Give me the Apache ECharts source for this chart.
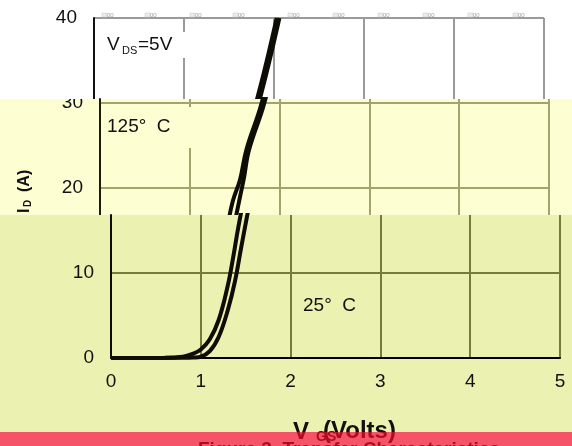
<!DOCTYPE html>
<html><head><meta charset="utf-8">
<script src="https://cdn.jsdelivr.net/npm/echarts@6/dist/echarts.min.js"></script>
<style>html,body{margin:0;padding:0;background:#fff}#c{width:572px;height:446px}</style>
</head><body><div id="c"></div>
<script>
// ---- data ----
const xTicks = [0, 1, 2, 3, 4, 5];
const yTicks = [0, 10, 20, 30, 40];
const vgs125 = [0, 0.6, 0.8, 0.9, 1.0, 1.1, 1.2, 1.3, 1.36, 1.42, 1.48, 1.56, 1.63, 1.80, 2.03];
const id125  = [0, 0.02, 0.15, 0.45, 1.0, 2.2, 4.5, 8.5, 11.8, 15.5, 18.5, 21.0, 24.5, 30.0, 40.0];
const vgs25  = [0, 0.8, 0.92, 1.0, 1.1, 1.2, 1.3, 1.38, 1.45, 1.51, 1.56, 1.60, 1.66, 1.83, 2.06];
const id25   = [0, 0.02, 0.06, 0.15, 0.8, 2.5, 5.6, 9.0, 13.0, 16.4, 19.0, 21.0, 24.5, 30.0, 40.0];
const labelVds = ['V', 'DS', '=5V'];
const label125 = '125°  C';
const label25 = '25°  C';
const xTitle = ['V', 'GS', '(Volts)'];
const yTitle = ['I', 'D', '(A)'];
const caption = 'Figure 3. Transfer Characteristics';

const d125 = vgs125.map((v, i) => [v, id125[i]]);
const d25 = vgs25.map((v, i) => [v, id25[i]]);

const FONT = '"Liberation Sans", Arial, sans-serif';
const strips = [
  {left: 94, width: 450, top: 18, height: 85, min: 30, max: 40, grid: '#9a9a9a', axis: '#111', z: 1},
  {left: 100, width: 449, top: 99, height: 174, min: 10, max: 30.47, grid: '#a3a36e', axis: '#1c1c0c', z: 11},
  {left: 111, width: 449, top: 215, height: 143, min: 0, max: 16.82, grid: '#767a3c', axis: '#0c0c00', z: 21}
];

const grids = [], xAxes = [], yAxes = [], series = [];
strips.forEach((s, i) => {
  grids.push({left: s.left, top: s.top, width: s.width, height: s.height, containLabel: false});
  xAxes.push({
    type: 'value', gridIndex: i, min: xTicks[0], max: xTicks[xTicks.length - 1], interval: 1, z: s.z,
    axisLine: {show: i === 2, onZero: false, lineStyle: {color: '#000', width: 2}},
    axisTick: {show: false},
    axisLabel: {show: i === 2, margin: 14, fontSize: 19, fontFamily: FONT, color: '#111',
      formatter: v => xTicks.includes(v) ? String(v) : ''},
    splitLine: {show: true, lineStyle: {color: s.grid, width: 2}}
  });
  yAxes.push({
    type: 'value', gridIndex: i, min: s.min, max: s.max, interval: 10, z: s.z,
    axisLine: {show: true, onZero: false, lineStyle: {color: s.axis, width: 2}},
    axisTick: {show: false},
    axisLabel: {margin: 17, fontSize: 19, fontFamily: FONT, color: '#111',
      formatter: v => yTicks.includes(v) ? String(v) : ''},
    splitLine: {show: true, showMaxLine: i === 0, lineStyle: {color: s.grid, width: 2}}
  });
  [d125, d25].forEach(d => series.push({
    type: 'line', xAxisIndex: i, yAxisIndex: i, data: d, showSymbol: false, smooth: 0.4,
    clip: true, z: s.z + 2, silent: true,
    lineStyle: {color: '#0d0d05', width: 4}
  }));
});

function txt(text, x, y, size, z, opts) {
  opts = opts || {};
  return {type: 'text', z: z, silent: true,
    style: {text: text, x: x, y: y, font: (opts.bold ? 'bold ' : '') + size + 'px ' + FONT,
      fill: opts.fill || '#111', align: 'left', verticalAlign: 'top', textAlign: 'left', textVerticalAlign: 'top'}};
}

const graphic = [
  // strip backgrounds
  {type: 'rect', z: 10, silent: true, shape: {x: 0, y: 99, width: 572, height: 116}, style: {fill: '#fefed3'}},
  {type: 'rect', z: 20, silent: true, shape: {x: 0, y: 215, width: 572, height: 217}, style: {fill: '#ebf2b1'}},
  // cut the strip-2 "30" label at the strip edge
  {type: 'rect', z: 15, silent: true, shape: {x: 40, y: 80, width: 52, height: 19}, style: {fill: '#ffffff'}},
  // label boxes
  {type: 'rect', z: 2, silent: true, shape: {x: 100, y: 32, width: 92, height: 26}, style: {fill: '#ffffff'}},
  {type: 'rect', z: 12, silent: true, shape: {x: 102, y: 107, width: 96, height: 41}, style: {fill: '#fefed3'}},
  // V_DS label
  txt(labelVds[0], 107, 35, 19, 4),
  txt(labelVds[1], 122, 45, 11, 4),
  txt(labelVds[2], 138, 35, 19, 4),
  txt(label125, 107, 117, 19, 14),
  txt(label25, 303, 296, 19, 24),
  // y title (rotated)
  {type: 'group', x: 26, y: 213, rotation: Math.PI / 2, z: 14, silent: true, children: [
    txt(yTitle[0], 0, -9, 16, 14, {bold: true}),
    txt(yTitle[1], 6, -3, 10, 14, {bold: true}),
    txt(yTitle[2], 21, -9, 16, 14, {bold: true})
  ]},
  // x title
  txt(xTitle[0], 293, 420, 24, 30, {bold: true}),
  txt(xTitle[1], 316, 430, 14, 30, {bold: true}),
  txt(xTitle[2], 323, 419, 24, 30, {bold: true}),
  txt(caption, 198, 440, 19, 30, {bold: true}),
  // red band overlay
  {type: 'rect', z: 40, silent: true, shape: {x: 0, y: 432, width: 572, height: 14},
    style: {fill: 'rgb(241,10,38)', opacity: 0.7}}
];
// tiny marks on the top border
[102, 145, 190, 233, 288, 333, 378, 423, 468, 513].forEach(x => {
  graphic.push({type: 'rect', z: 5, silent: true, shape: {x: x, y: 13, width: 5, height: 4},
    style: {fill: '#ececec', stroke: '#c4c4c4', lineWidth: 0.5}});
  graphic.push(txt('00', x + 5, 12, 6, 5, {fill: '#a0a0a0'}));
});

const chart = echarts.init(document.getElementById('c'), null, {renderer: 'canvas'});
chart.setOption({
  backgroundColor: '#ffffff',
  animation: false,
  grid: grids, xAxis: xAxes, yAxis: yAxes, series: series, graphic: graphic
});
</script></body></html>
